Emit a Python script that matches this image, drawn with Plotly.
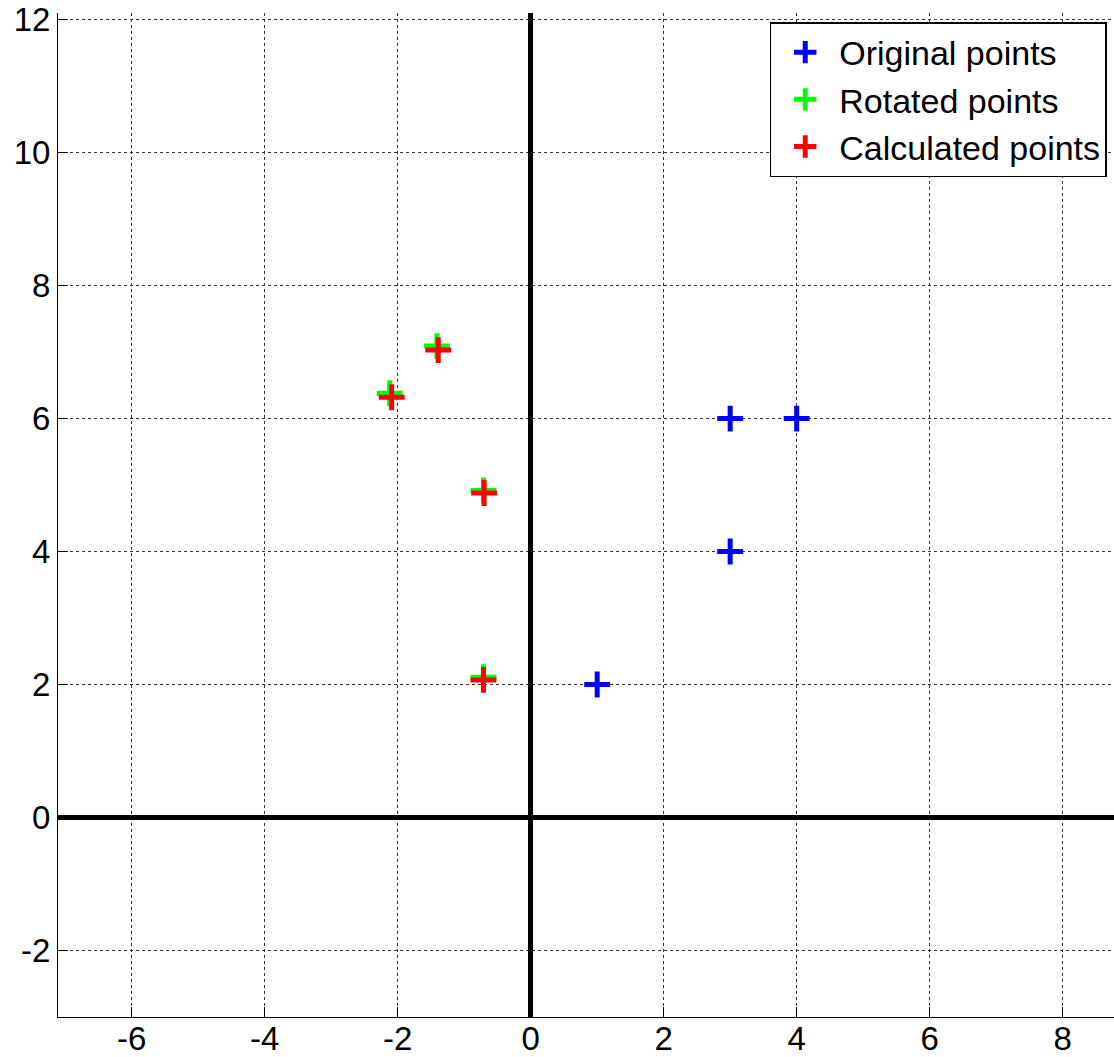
import plotly.graph_objects as go

# Data
orig_x = [1, 3, 3, 4]
orig_y = [2, 4, 6, 6]
rot_x = [-0.71, -0.71, -2.12, -1.41]
rot_y = [2.11, 4.92, 6.38, 7.09]
calc_x = [-0.71, -0.70, -2.09, -1.39]
calc_y = [2.07, 4.88, 6.32, 7.03]

series_names = ["Original points", "Rotated points", "Calculated points"]
series_colors = ["#0000FF", "#00FF00", "#FF0000"]

x_ticks = [-6, -4, -2, 0, 2, 4, 6, 8]
x_ticktext = ["-6", "-4", "-2", "0", "2", "4", "6", "8"]
y_ticks = [-2, 0, 2, 4, 6, 8, 10, 12]
y_ticktext = ["-2", "0", "2", "4", "6", "8", "10", "12"]

FONT = "Arial, Liberation Sans, Helvetica, sans-serif"

fig = go.Figure()
for xs, ys, name, col in zip([orig_x, rot_x, calc_x], [orig_y, rot_y, calc_y],
                             series_names, series_colors):
    fig.add_trace(go.Scatter(
        x=xs, y=ys, mode="markers", name=name,
        marker=dict(symbol="cross-thin", size=18.5, color=col,
                    line=dict(color=col, width=5)),
    ))

axis_common = dict(
    showgrid=True, gridcolor="#333333", griddash="dot", gridwidth=1,
    zeroline=True, zerolinecolor="black", zerolinewidth=5,
    showline=True, linecolor="black", linewidth=1,
    ticks="inside", ticklen=10, tickcolor="black", tickwidth=1,
    tickfont=dict(family=FONT, size=33, color="black"),
    mirror=False,
)

fig.update_layout(
    width=1114, height=1057,
    margin=dict(l=58, r=0, t=13, b=40, autoexpand=False),
    paper_bgcolor="white", plot_bgcolor="white",
    showlegend=True,
    legend=dict(
        x=0.674, y=0.991, xanchor="left", yanchor="top",
        bgcolor="white", bordercolor="black", borderwidth=1.5,
        font=dict(family=FONT, size=34, color="black"),
        itemsizing="trace", itemwidth=58,
    ),
    xaxis=dict(range=[-7.108, 8.772], tickvals=x_ticks, ticktext=x_ticktext,
               ticklabelstandoff=-8, **axis_common),
    yaxis=dict(range=[-3.0, 12.1], tickvals=y_ticks, ticktext=y_ticktext,
               **axis_common),
)

fig.write_html(
    "out.html",
    config={"displayModeBar": False},
    post_script="document.body.style.margin='0';document.body.style.overflow='hidden';",
)
